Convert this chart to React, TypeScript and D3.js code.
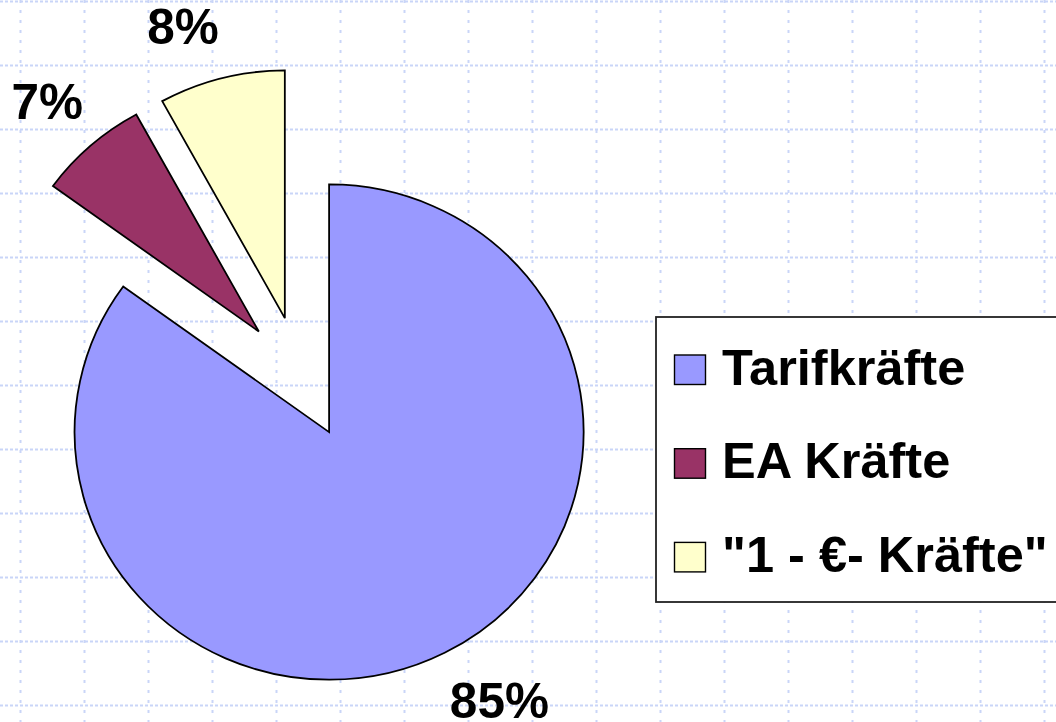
import React from 'react';
import * as d3 from 'd3';

// chart data
const categories = ['Tarifkräfte', 'EA Kräfte', '"1 - €- Kräfte"'];
const values = [85, 7, 8];
const pctLabels = ['85%', '7%', '8%'];
const colors = ['#9999ff', '#993366', '#ffffcc'];

const W = 1056;
const H = 722;
const FONT = '"Liberation Sans", Arial, Helvetica, sans-serif';

const App = () => {
  // pie geometry (slightly squashed ellipse, all slices exploded)
  const cx = 300.5;
  const cy = 377.5;
  const r = 254.5;
  const ky = 0.973;
  const explode = 63;
  const labelRx = 266;
  const labelRy = 291;
  const capH = 35;

  const pie = d3.pie<number>().sort(null).value(d => d).startAngle(0);
  const arcs = pie(values);
  const arcGen = d3.arc<d3.PieArcDatum<number>>().innerRadius(0).outerRadius(r);

  const gridX = d3.range(20.5, W, 64);
  const gridY = d3.range(1.5, H, 64);

  const slices = arcs.map((a, i) => {
    const mid = (a.startAngle + a.endAngle) / 2;
    const dx = Math.sin(mid);
    const dy = -Math.cos(mid);
    const ox = explode * dx;
    const oy = explode * dy;
    // label anchored at its corner nearest to the slice
    const px = cx + ox + labelRx * dx;
    const py = cy + (oy + labelRy * dy) * ky;
    const anchor = dx >= 0 ? 'start' : 'end';
    const baseY = dy > 0 ? py + capH - 1 : py;
    return { a, i, ox, oy, px, baseY, anchor };
  });

  const legendX = 656;
  const legendY = 317;
  const legendRow0 = 384.5;
  const legendStep = 93.7;

  return (
    <div style={{ position: 'absolute', left: 0, top: 0, width: W, height: H, background: '#fff' }}>
      <svg width={W} height={H} style={{ display: 'block' }}>
        <rect width={W} height={H} fill="#fff" />
        {/* dotted background grid */}
        <g>
          {gridX.map(x => (
            <line key={'vx' + x} x1={x} x2={x} y1={0} y2={H}
              stroke="#c9d5f8" strokeWidth={2} strokeDasharray="3 7" />
          ))}
          {gridY.map(y => (
            <line key={'hy' + y} x1={0} x2={W} y1={y} y2={y}
              stroke="#c9d5f8" strokeWidth={2} strokeDasharray="3 2" />
          ))}
        </g>

        {/* pie */}
        <g transform={`translate(${cx},${cy}) scale(1,${ky})`}>
          {slices.map(s => (
            <path key={s.i}
              transform={`translate(${s.ox},${s.oy})`}
              d={arcGen(s.a) || ''}
              fill={colors[s.i]}
              stroke="#000"
              strokeWidth={1.8}
              strokeLinejoin="miter" />
          ))}
        </g>

        {/* percentage labels */}
        {slices.map(s => (
          <text key={'l' + s.i} x={s.px} y={s.baseY} textAnchor={s.anchor}
            fontFamily={FONT} fontWeight="bold" fontSize={49.5} fill="#000">
            {pctLabels[s.i]}
          </text>
        ))}

        {/* legend */}
        <rect x={legendX} y={legendY} width={W - legendX + 10} height={602 - legendY}
          fill="#fff" stroke="#222" strokeWidth={1.8} />
        {categories.map((c, i) => {
          const by = legendRow0 + i * legendStep;
          return (
            <g key={'lg' + i}>
              <rect x={674.5} y={by - 29.5} width={31} height={29.5}
                fill={colors[i]} stroke="#000" strokeWidth={1.4} />
              <text x={722} y={by} fontFamily={FONT} fontWeight="bold" fontSize={50.5} fill="#000">
                {c}
              </text>
            </g>
          );
        })}
      </svg>
    </div>
  );
};

export default App;
